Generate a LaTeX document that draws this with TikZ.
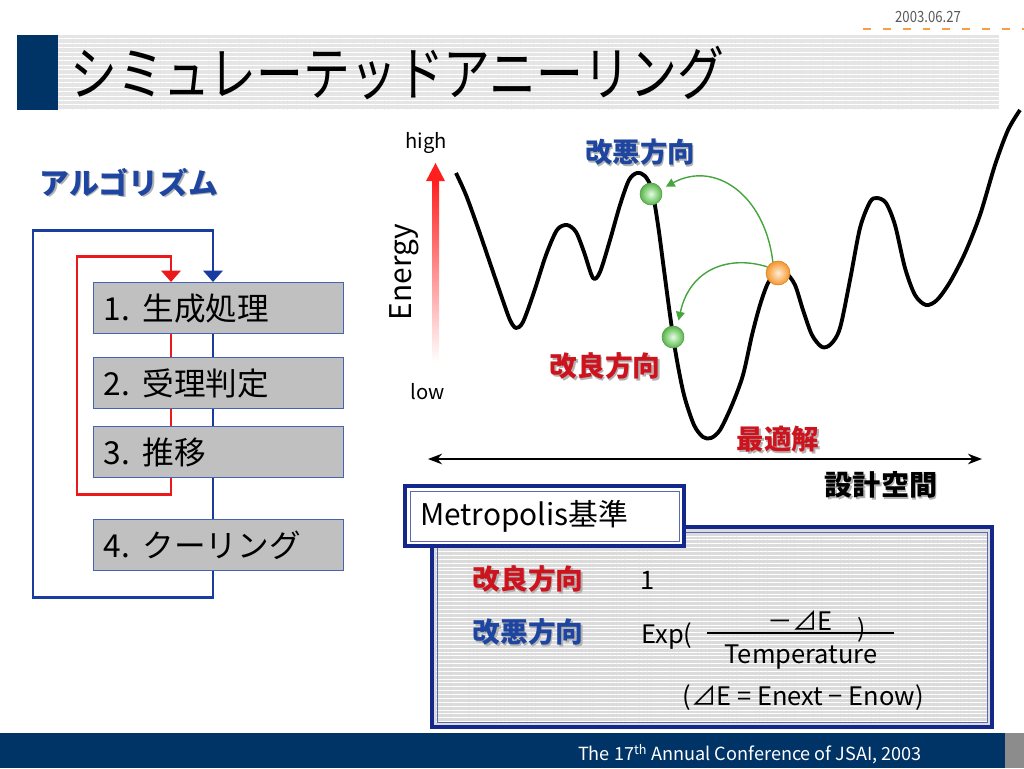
\documentclass[tikz,border=0pt]{standalone}
\usepackage{fontspec}
\setmainfont{Noto Sans CJK JP}
\usetikzlibrary{arrows.meta,patterns.meta}

\definecolor{navy}{RGB}{0,51,102}
\definecolor{flowblue}{RGB}{25,60,160}
\definecolor{flowred}{RGB}{235,25,25}
\definecolor{boxgray}{RGB}{192,192,192}
\definecolor{boxedge}{RGB}{70,100,180}
\definecolor{lblblue}{RGB}{30,70,160}
\definecolor{lblred}{RGB}{205,20,30}
\definecolor{ballgreen}{RGB}{90,180,75}
\definecolor{ballorange}{RGB}{245,150,40}
\definecolor{arrgreen}{RGB}{70,165,60}
\definecolor{dashorange}{RGB}{245,160,70}
\definecolor{mnavy}{RGB}{20,40,140}

% text with a soft grey drop shadow
\newcommand\shtxt[2]{\makebox[0pt][l]{\kern0.9pt\raisebox{-0.9pt}{\color{black!30}#2}}{\color{#1}#2}}
\newcommand\fsz[1]{\fontsize{#1}{#1}\selectfont}

\begin{document}
\begin{tikzpicture}[x=0.02cm, y=-0.02cm,
    flowbox/.style={draw=boxedge, line width=0.7pt, fill=boxgray, anchor=north west,
      minimum width=4.98cm, minimum height=1.02cm, text width=4.6cm, align=left,
      inner xsep=0.2cm, font=\fsz{18}},
    bline/.style={flowblue, line width=1.7pt},
    rline/.style={flowred, line width=1.7pt},
    flowtip/.style={-{Triangle[width=11pt, length=6.5pt]}},
    ball/.style={circle, minimum size=0.44cm, inner sep=0pt, line width=0.3pt},
    garrow/.style={arrgreen, line width=0.8pt, -{Triangle[width=5pt, length=5pt]}},
    frame/.style={mnavy, line width=1.8pt}]

  \useasboundingbox (0,0) rectangle (1024,768);

  % Header: date, dashes and title bar
  \node[text=black!65] (date) at (928,17) {\scalebox{0.85}[1]{\fsz{8.8}2003.06.27}};
  \draw[dashorange, line width=1.2pt, dash pattern=on 4.5pt off 6.8pt] (863,29) -- (1024,29);
  \fill[navy] (17,35) rectangle (58,110);
  \fill[black!10] (58,35) rectangle (999,110);
  \fill[pattern={Lines[angle=0, distance=2.5pt, line width=0.5pt]}, pattern color=white] (58,35) rectangle (999,110);
  \node[anchor=west] (title) at (64,73) {\scalebox{0.86}[1.08]{\fsz{31}シミュレーテッドアニーリング}};

  % Footer
  \fill[navy] (0,733) rectangle (1005,768);
  \fill[black!45] (1005,733) rectangle (1024,768);
  \node[text=white] (foot) at (750,754) {\fsz{10.3}The 17\textsuperscript{th} Annual Conference of JSAI, 2003};

  % Algorithm flow
  \node (algo) at (129,183) {\fsz{17}\bfseries\shtxt{lblblue}{アルゴリズム}};
  \node[flowbox] (b1) at (93,282) {1.\hspace{0.4em}生成処理};
  \node[flowbox] (b2) at (93,357) {2.\hspace{0.4em}受理判定};
  \node[flowbox] (b3) at (93,426) {3.\hspace{0.4em}推移};
  \node[flowbox, minimum width=5cm] (b4) at (93,519) {4.\hspace{0.4em}クーリング};

  \coordinate (bx) at (213,0);
  \coordinate (rx) at (171,0);
  \coordinate (bbot) at (33,597);
  \coordinate (btop) at (33,230);
  \coordinate (rbot) at (77,494);
  \coordinate (rtop) at (77,256);

  \draw[bline] (b1.south -| bx) -- (b2.north -| bx);
  \draw[bline] (b2.south -| bx) -- (b3.north -| bx);
  \draw[bline] (b3.south -| bx) -- (b4.north -| bx);
  \draw[bline, flowtip] (b4.south -| bx) |- (bbot) -- (btop) -| (b1.north -| bx);
  \draw[rline] (b1.south -| rx) -- (b2.north -| rx);
  \draw[rline] (b2.south -| rx) -- (b3.north -| rx);
  \draw[rline, flowtip] (b3.south -| rx) |- (rbot) -- (rtop) -| (b1.north -| rx);

  % Energy axis
  \shade[top color=red!88!white, bottom color=white] (432,180) rectangle (439,362);
  \fill[red!88!white] (426,181) -- (435.5,163) -- (445,181) -- cycle;
  \node (high) at (426,143) {\fsz{11.5}high};
  \node (low) at (428,392) {\fsz{11.5}low};
  \node[rotate=90] (energy) at (404,272) {\fsz{17}Energy};

  % Energy landscape
  \draw[line width=2.2pt, line join=round] plot[smooth, tension=0.5] coordinates {
    (456,173) (466,195) (478,228) (490,263) (502,298) (510,320) (516,328) (523,322)
    (534,292) (546,255) (557,230) (567,225) (576,232) (584,252) (593,278) (600,272)
    (610,240) (620,205) (629,180) (637,173) (645,176) (652,190) (658,225) (664,270)
    (670,315) (676,355) (684,395) (694,425) (703,437) (711,438) (720,430) (732,405)
    (743,375) (752,335) (760,305) (768,283) (777,272) (786,273) (795,285) (803,310)
    (812,335) (822,347) (831,344) (840,328) (850,280) (860,228) (870,202) (877,198)
    (886,203) (895,225) (905,268) (915,295) (926,305) (937,300) (950,282) (965,253)
    (980,215) (995,165) (1008,130) (1020,110)};

  % Balls and moves
  \node[ball, draw=ballgreen!85!black, inner color=green!12!white, outer color=ballgreen] (g1) at (651,194) {};
  \node[ball, draw=ballgreen!85!black, inner color=green!12!white, outer color=ballgreen] (g2) at (673,337) {};
  \node[ball, draw=ballorange!85!black, inner color=orange!15!white, outer color=ballorange, minimum size=0.48cm] (ob) at (778,273) {};
  \draw[garrow, shorten >=3pt] (ob.115) .. controls (765,195) and (715,160) .. (g1.25);
  \draw[garrow, shorten >=3.5pt] (ob.150) .. controls (730,255) and (690,268) .. (g2.68);

  \node (worse) at (640,153) {\fsz{15.6}\bfseries\shtxt{lblblue}{改悪方向}};
  \node (better) at (605,367) {\fsz{15.8}\bfseries\shtxt{lblred}{改良方向}};
  \node (optim) at (778,440) {\fsz{15.6}\bfseries\shtxt{lblred}{最適解}};

  % Design space axis
  \coordinate (axL) at (428,459);
  \coordinate (axR) at (982,459);
  \draw[line width=1.2pt, {Stealth[length=8pt, width=6pt]}-{Stealth[length=8pt, width=6pt]}] (axL) -- (axR);
  \node (space) at (881,486) {\fsz{16}\bfseries\shtxt{black}{設計空間}};

  % Metropolis criterion
  \draw[frame, fill=black!14] (432,527) rectangle (992,727);
  \fill[pattern={Lines[angle=0, distance=2.2pt, line width=0.55pt]}, pattern color=white] (436,531) rectangle (988,723);
  \draw[mnavy!70, line width=0.5pt] (437,532) rectangle (987,722);
  \draw[frame, fill=white] (405,486) rectangle (684,546);
  \draw[mnavy!70, line width=0.5pt] (410,491) rectangle (679,541);
  \node[anchor=west] (crit) at (414,516) {\fsz{17}Metropolis基準};

  \node (cbetter) at (528,580) {\fsz{15.8}\bfseries\shtxt{lblred}{改良方向}};
  \node (cworse) at (528,633) {\fsz{15.8}\bfseries\shtxt{lblblue}{改悪方向}};
  \node (one) at (648,580) {\fsz{14.5}1};
  \node[anchor=west, inner sep=0pt] (exp) at (641,636) {\fsz{14.5}Exp(};
  \draw[line width=0.6pt] (707,633) -- (894,633);
  \node (num) at (800,621) {\fsz{14.5}－⊿E};
  \node[inner sep=0pt] (den) at (801,657) {\fsz{14.5}Temperature};
  \node[inner sep=0pt] (rpar) at (862,629) {\fsz{14}\raisebox{0pt}[0.8em][0.1em]{)}};
  \node (delta) at (803,698) {\fsz{14.5}(⊿E = Enext − Enow)};
\end{tikzpicture}
\end{document}
